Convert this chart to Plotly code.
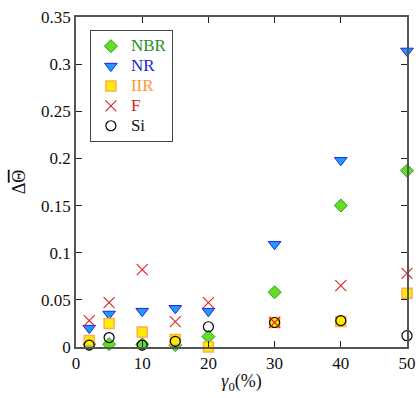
import plotly.graph_objects as go

gamma0 = [2, 5, 10, 15, 20, 30, 40, 50]
nbr = [0.003, 0.003, 0.003, 0.002, 0.011, 0.058, 0.150, 0.187]
nr = [0.020, 0.035, 0.038, 0.041, 0.038, 0.109, 0.198, 0.314]
iir = [0.007, 0.025, 0.016, 0.008, 0.000, 0.026, 0.027, 0.057]
f_vals = [0.028, 0.047, 0.082, 0.027, 0.047, 0.026, 0.065, 0.078]
si = [0.002, 0.010, 0.002, 0.006, 0.0215, 0.026, 0.028, 0.012]

FONT = "Liberation Serif, Times New Roman, serif"

def lbl(text, color):
    return f"<span style='color:{color};font-size:17px'>{text}</span>"

fig = go.Figure()
fig.add_trace(go.Scatter(x=gamma0, y=nbr, mode="markers", name=lbl("NBR", "#1f8f1f"),
                         marker=dict(symbol="diamond", size=10, color="#66dd22", line=dict(color="#2a9a2a", width=1)),
                         cliponaxis=False, legendrank=1))
fig.add_trace(go.Scatter(x=gamma0, y=nr, mode="markers", name=lbl("NR", "#2222dd"),
                         marker=dict(symbol="triangle-down", size=11, color="#1e9bff", line=dict(color="#2222dd", width=1)),
                         cliponaxis=False, legendrank=2))
fig.add_trace(go.Scatter(x=gamma0, y=iir, mode="markers", name=lbl("IIR", "#ff9933"),
                         marker=dict(symbol="square", size=10, color="#ffee00", line=dict(color="#ffaa55", width=1.5)),
                         cliponaxis=False, legendrank=3))
fig.add_trace(go.Scatter(x=gamma0, y=si, mode="markers", name=lbl("Si", "#111111"),
                         marker=dict(symbol="circle-open", size=10, color="#000000", line=dict(width=1.2)),
                         cliponaxis=False, legendrank=5))
fig.add_trace(go.Scatter(x=gamma0, y=f_vals, mode="markers", name=lbl("F", "#d42020"),
                         marker=dict(symbol="x-thin-open", size=11, color="#dd2222", line=dict(color="#dd2222", width=1.1)),
                         cliponaxis=False, legendrank=4))

axis_common = dict(showgrid=False, zeroline=False, showline=True, linecolor="#555555", linewidth=1.5,
                   mirror="ticks", ticks="inside", ticklen=6, tickcolor="#222222", tickwidth=1.2,
                   automargin=False,
                   tickfont=dict(family=FONT, size=17, color="#111111"))

fig.update_layout(
    width=418, height=398,
    margin=dict(l=76, r=11, t=17, b=51),
    paper_bgcolor="white", plot_bgcolor="white",
    font=dict(family=FONT, size=17, color="#111111"),
    showlegend=True,
    legend=dict(x=0.042, y=0.96, xanchor="left", yanchor="top", bgcolor="white",
                bordercolor="#444444", borderwidth=1, font=dict(family=FONT, size=13),
                itemwidth=30, tracegroupgap=0),
    xaxis=dict(range=[0, 50], dtick=10, tick0=0,
               title=dict(text="<i>γ</i><sub>0</sub>(%)", font=dict(family=FONT, size=18), standoff=2),
               **axis_common),
    yaxis=dict(range=[0, 0.35], dtick=0.05, tick0=0,
               title=dict(text="Δ<span style='text-decoration:overline'>Θ</span>", font=dict(family=FONT, size=18), standoff=11),
               **axis_common),
)

fig.write_html("out.html", config={"displayModeBar": False},
               post_script="document.body.style.margin='0';")
